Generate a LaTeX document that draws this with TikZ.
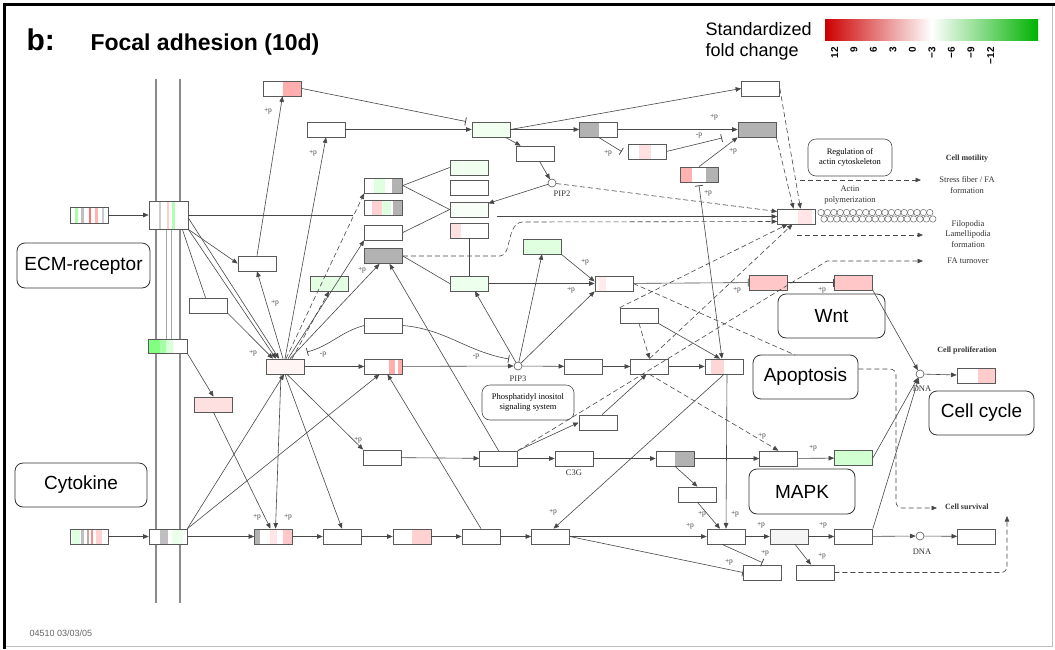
\documentclass[tikz,border=0pt]{standalone}
\usepackage{fontspec}
\setmainfont{Liberation Serif}
\setsansfont{Liberation Sans}
\usetikzlibrary{arrows.meta,calc}
\begin{document}
\begin{tikzpicture}[x=1pt,y=-1pt,
  gene/.style={draw=black!65, line width=0.7pt, minimum width=38pt, minimum height=15pt, inner sep=0pt, fill=white},
  st/.style={path picture={\foreach \c/\a/\b in {#1}{\fill[\c] ($(path picture bounding box.south west)!\a!(path picture bounding box.south east)$) rectangle ($(path picture bounding box.north west)!\b!(path picture bounding box.north east)$);}}},
  circ/.style={circle, draw=black!65, line width=0.6pt, minimum size=8pt, inner sep=0pt, fill=white},
  ln/.style={draw=black!72, line width=0.6pt},
  arr/.style={ln, -{Triangle[length=5.5pt,width=4.5pt]}},
  inh/.style={ln, -{Bar[width=8pt,line width=0.8pt]}},
  dsh/.style={dash pattern=on 5pt off 3pt},
  pl/.style={font=\fontsize{7.5}{8}\selectfont, text=black!75, inner sep=0pt},
  kt/.style={font=\fontsize{8.5}{10.5}\selectfont, text=black!80, inner sep=0pt, align=center},
  ktb/.style={kt, font=\fontsize{8}{10}\selectfont\bfseries},
  lab/.style={draw=black!80, line width=0.8pt, rounded corners=8pt, font=\sffamily\fontsize{19}{22}\selectfont, inner sep=0pt},
  klab/.style={draw=black!70, line width=0.6pt, rounded corners=8pt, font=\fontsize{8.5}{10.5}\selectfont, inner sep=0pt, align=center}
]
\useasboundingbox (0,0) rectangle (1055,649);
\fill[white] (0,0) rectangle (1055,649);
% frame
\draw[line width=3pt] (4.5,649) -- (4.5,4.5) -- (1055,4.5);
\draw[black!25, line width=0.8pt] (1052,6) -- (1052,646.5) -- (6,646.5);

% title
\node[anchor=base west, font=\sffamily\bfseries\fontsize{30}{32}\selectfont] (tb) at (23,50) {b:};
\node[anchor=base west, font=\sffamily\bfseries\fontsize{23}{26}\selectfont] (tt) at (87,50) {Focal adhesion (10d)};

% legend
\node[anchor=base west, font=\sffamily\fontsize{18}{20}\selectfont] (leg1) at (702,35) {Standardized};
\node[anchor=base west, font=\sffamily\fontsize{18}{20}\selectfont] (leg2) at (702,56) {fold change};
\shade[left color=red!80!black, right color=green!70!black, middle color=white] (825,19.5) rectangle (1038,40);
\foreach \v [count=\i from 0] in {12,9,6,3,0,−3,−6,−9,−12}{
  \node[rotate=90, anchor=east, font=\sffamily\bfseries\fontsize{10}{11}\selectfont, inner sep=0pt] at ({834.5+\i*19.5},47) {\v};
}

% membrane
\draw[black!45, line width=2.4pt] (156,79) -- (156,603);
\draw[black!45, line width=2.4pt] (180,79) -- (180,603);
\draw[black!35, line width=0.8pt] (166,229) -- (166,339);
\draw[black!35, line width=0.8pt] (171,229) -- (171,339);

% label boxes
\node[lab, minimum width=133pt, minimum height=45pt] (ECMr) at (83.5,265.5) {ECM-receptor};
\node[lab, minimum width=132pt, minimum height=44pt] (Cyto) at (81,485) {Cytokine};
\node[lab, minimum width=107pt, minimum height=44pt] (Wnt) at (831.5,316) {Wnt};
\node[lab, minimum width=105pt, minimum height=44pt] (Apop) at (805.5,377) {Apoptosis};
\node[lab, minimum width=105pt, minimum height=44pt] (Ccyc) at (981.5,413) {Cell cycle};
\node[lab, minimum width=106pt, minimum height=45pt] (MAPK) at (802,491.5) {MAPK};
\node[klab, minimum width=84pt, minimum height=37pt] (Reg) at (850,157.5) {Regulation of\\actin cytoskeleton};
\node[klab, minimum width=92pt, minimum height=35pt] (Phos) at (528,402.5) {Phosphatidyl inositol\\signaling system};

% genes
\node[gene, minimum height=16pt, st={green!35/0.12/0.2, black!25/0.3/0.36, red!55/0.5/0.56, red!30/0.66/0.74, black!20/0.85/0.9}] (lig1) at (89,215) {};
\node[gene, minimum width=39pt, minimum height=28pt, st={black!20/0.25/0.32, red!20/0.45/0.5, green!30/0.6/0.66}] (mECM) at (168.5,215) {};
\node[gene, minimum width=39pt, minimum height=14pt, st={green!50/0/0.3, green!35/0.3/0.45, green!15/0.45/0.65}] (mInt) at (167.5,346) {};
\node[gene, st={green!12/0.05/0.25, black!25/0.3/0.38, red!40!black!35/0.45/0.5, red!45/0.55/0.6, red!18/0.68/0.85}] (lig2) at (89,536.5) {};
\node[gene, st={black!25/0.3/0.5, green!8/0.6/0.9}] (mCyt) at (168,536.5) {};

\node[gene, st={red!32/0.5/1}] (A1) at (282.5,88.5) {};
\node[gene] (A2) at (326,129.5) {};
\node[gene, fill=green!6] (B1) at (491,129.5) {};
\node[gene] (B2) at (535,153.5) {};
\node[gene, st={black!30/0/0.5}] (B3) at (598.5,129.5) {};
\node[gene, st={red!12/0.3/0.6}] (B4) at (647,151.5) {};
\node[gene, st={red!30/0/0.32, black!30/0.68/1}] (B5) at (699,174.5) {};
\node[gene] (C1) at (760.5,88.5) {};
\node[gene, fill=black!30] (C2) at (757,129.5) {};
\node[gene, st={red!10/0.55/0.9}] (C3) at (796.5,216.5) {};
\node[gene, st={green!12/0.25/0.55, black!30/0.72/1}] (L1) at (383.5,185.5) {};
\node[gene, st={red!18/0.2/0.45, green!12/0.45/0.7, black!30/0.75/1}] (L2) at (383.5,207.5) {};
\node[gene] (L3) at (383.5,232.5) {};
\node[gene, fill=black!30] (L4) at (383.5,256) {};
\node[gene, fill=green!6] (H1) at (469,167.5) {};
\node[gene] (H2) at (469,187.5) {};
\node[gene, fill=green!3] (H3) at (469,209.5) {};
\node[gene, st={red!12/0/0.3}] (H4) at (469,230.5) {};
\node[gene, fill=green!12] (G1) at (542,246.5) {};
\node[gene, fill=green!7] (H5) at (469,283.5) {};
\node[gene, st={red!8/0.1/0.3}] (R1) at (614,283.5) {};
\node[gene] (Q1) at (639,315.5) {};
\node[gene] (S1) at (257,263.5) {};
\node[gene, fill=green!10] (S2) at (329,283.5) {};
\node[gene] (S3) at (208.5,305.5) {};
\node[gene, fill=red!4] (FAK) at (285,366.5) {};
\node[gene, fill=red!12] (P1) at (213.5,404.5) {};
\node[gene] (T1) at (383.5,325.5) {};
\node[gene, st={red!32/0.65/0.8, red!32/0.88/1}] (T2) at (383.5,366.5) {};
\node[circ] (PIP3) at (518,366) {};
\node[circ] (PIP2) at (552,183) {};
\node[gene] (U1) at (583.5,366.5) {};
\node[gene] (U2) at (649.5,366.5) {};
\node[gene, st={red!16/0.15/0.5}] (U3) at (724,366.5) {};
\node[gene, fill=red!22] (W1) at (768,282.5) {};
\node[gene, fill=red!22] (W2) at (853.5,282.5) {};
\node[circ] (DNA1) at (920,374) {};
\node[gene, st={red!20/0.55/1}] (CC) at (976,375.5) {};
\node[gene] (M0) at (382.5,457.5) {};
\node[gene] (M1) at (498.5,458.5) {};
\node[gene] (C3G) at (574,458.5) {};
\node[gene, st={black!30/0.5/1}] (M2) at (675,458.5) {};
\node[gene] (M3) at (778.5,458.5) {};
\node[gene, fill=green!18] (M4) at (853.5,458) {};
\node[gene] (M5) at (697.5,494.5) {};
\node[gene] (V1) at (598,422.5) {};
\node[gene, st={black!30/0/0.15, red!10/0.4/0.6, red!22/0.75/1}] (K1) at (273.5,536.5) {};
\node[gene] (K2) at (342,536.5) {};
\node[gene, st={red!18/0.5/1}] (K3) at (412,536.5) {};
\node[gene] (K4) at (481,536.5) {};
\node[gene] (K5) at (550.5,536.5) {};
\node[gene] (K6) at (726,536.5) {};
\node[gene, fill=black!4] (K7) at (789,536.5) {};
\node[gene] (K8) at (853.5,536.5) {};
\node[circ] (DNA2) at (920,536) {};
\node[gene] (K9) at (976.5,536.5) {};
\node[gene] (K10) at (762.5,572.5) {};
\node[gene] (K11) at (815,572.5) {};

% small texts
\node[kt] (tPIP2) at (562,194) {PIP2};
\node[kt] (tPIP3) at (518,379) {PIP3};
\node[kt] (tDNA1) at (922,389) {DNA};
\node[kt] (tDNA2) at (922,552) {DNA};
\node[kt] (tC3G) at (574,473) {C3G};
\node[kt] (tActin) at (850,195) {Actin\\polymerization};
\node[ktb] (tMot) at (967,159) {Cell motility};
\node[kt] (tStress) at (967,185) {Stress fiber / FA\\formation};
\node[kt] (tFilo) at (968,234) {Filopodia\\Lamellipodia\\formation};
\node[kt] (tFA) at (968,261) {FA turnover};
\node[ktb] (tProl) at (967,351) {Cell proliferation};
\node[ktb, anchor=west] (tSurv) at (945,507) {Cell survival};
\node[anchor=base west, font=\sffamily\fontsize{9}{10}\selectfont, text=black!60] (tId) at (26,636) {04510 03/03/05};

% actin beads
\foreach \i in {0,...,17}{
  \draw[black!60, line width=0.5pt] ({821+\i*6.4},212.5) circle (3.2pt);
  \draw[black!60, line width=0.5pt] ({824+\i*6.4},219) circle (3.2pt);
}

% coordinates for free ends
\coordinate (e1) at (353,215);
\coordinate (e2) at (497,216.5);
\coordinate (a1t) at (466,121.5);
\coordinate (b4t) at (722,138);
\coordinate (fakT) at (307,352);
\coordinate (pipT) at (509,359);
\coordinate (fa1) at (827,261);
\coordinate (faE) at (923,261);
\coordinate (rs) at (800,180);
\coordinate (rsE) at (921,180);
\coordinate (fl) at (797,235);
\coordinate (flE) at (923,235);
\coordinate (apo1) at (795,355);
\coordinate (surv1) at (1007,516);
\coordinate (survE) at (937,508);

% connectors: top
\draw[arr] (lig1) -- (mECM);
\draw[arr] (lig2) -- (mCyt);
\draw[ln] (mECM.east) -- (e1);
\draw[arr] (e2) -- (C3.west);
\draw[arr] (mECM.south east) -- (S1.west);
\draw[arr] (mECM.south east) -- ([xshift=-9pt]FAK.north);
\draw[arr] ([yshift=-3pt]mECM.east) -- ([xshift=-6pt]FAK.north);
\draw[ln] ([xshift=-6pt]mECM.south east) -- ([xshift=-3pt]S3.north);
\draw[arr] (S3.south east) -- ([xshift=-12pt]FAK.north);
\draw[arr] ([xshift=-2pt]FAK.north) -- (S1.south);
\draw[arr] (S1.north) -- (A1.south);
\draw[arr] (FAK.north) -- (A2.south);
\draw[arr] (A2) -- (B1);
\draw[inh] (A1.east) -- (a1t);
\draw[arr] (B1) -- (B2);
\draw[arr] (B2) -- (PIP2);
\draw[arr] (PIP2) -- (H3);
\draw[arr] (B1) -- (B3);
\draw[arr] (B1.east) -- (C1.west);
\draw[arr] (B3) -- (C2);
\draw[inh] (B3.south) -- ([xshift=-6pt]B4.west);
\draw[inh] (B4.east) -- (b4t);
\draw[arr] (B5.north) -- (C2.south west);
\draw[ln] (L1.east) -- (H1.west);
\draw[ln] (L1.east) -- (H3.west);
\draw[ln] (L3.east) -- (H3.west);
\draw[ln] (L4.east) -- (H5.west);
\draw[ln] (H4) -- (H5);
\draw[arr, dsh] ([xshift=1pt]FAK.north) -- (L1.south west);
\draw[arr] ([xshift=3pt]FAK.north) -- (L3.south west);
\draw[arr] ([xshift=5pt]FAK.north) -- ([xshift=-4pt]L4.south);
\draw[arr] (M1.north) -- ([xshift=6pt]L4.south);
\draw[arr, dsh] ([xshift=7pt]FAK.north) -- (S2.south);
\draw[arr] (FAK) -- (T2);
\draw[arr] (T2) -- (PIP3);
\draw[inh] (T1.west) to[out=195, in=15] (fakT);
\draw[inh] (T1.east) to[out=-5, in=170] (pipT);
\draw[arr] (PIP3) -- ([xshift=6pt]H5.south);
\draw[arr] (PIP3) -- (G1.south);
\draw[arr] (PIP3) -- (R1.south west);
\draw[arr] (G1.south east) -- ([yshift=2pt]R1.west);
\draw[arr] (H5) -- (R1);
\draw[arr] (PIP3) -- (U1);
\draw[arr] (U1) -- (U2);
\draw[arr] (U2) -- (U3);
\draw[arr, dsh] (Q1.south) -- (U2.north);
\draw[arr] (Q1.south east) -- ([xshift=-4pt]U3.north);
\draw[inh] (R1) -- (W1);
\draw[inh] (W1) -- (W2);
\draw[arr] (W2.south east) -- (DNA1);
\draw[arr] (DNA1) -- (CC);
\draw[ln, {Bar[width=8pt,line width=0.8pt]}-{Triangle[length=5.5pt,width=4.5pt]}] ([yshift=-3pt]B5.south) -- ([xshift=-2pt]U3.north);
\draw[arr] ([xshift=3pt]U3.south) -- (K6.north);

% connectors: lower
\draw[arr] (mInt.south east) -- (P1.north);
\draw[arr] (P1.south) -- ([xshift=-3pt]K1.north);
\draw[arr] ([xshift=-4pt]FAK.south) -- ([xshift=2pt]K1.north);
\draw[arr] (FAK.south) -- (K2.north);
\draw[arr] ([xshift=2pt]FAK.south) -- (M0.north west);
\draw[arr] (mCyt) -- (K1);
\draw[arr] (mCyt.north east) -- ([xshift=-1pt]FAK.south);
\draw[arr] (mCyt.north east) -- ([xshift=-4pt]T2.south);
\draw[arr] (K4.north) -- ([xshift=4pt]T2.south);
\draw[arr] (K1) -- (K2);
\draw[arr] (K2) -- (K3);
\draw[arr] (K3) -- (K4);
\draw[arr] (K4) -- (K5);
\draw[arr] (K5) -- (K6);
\draw[arr] (M0) -- (M1);
\draw[arr] (M1) -- (C3G);
\draw[arr] (C3G) -- (M2);
\draw[arr] (M2) -- (M3);
\draw[arr] (M3) -- (M4);
\draw[arr] (M1.north east) -- (V1.west);
\draw[arr] ([xshift=4pt]V1.north) -- ([xshift=-3pt]U2.south);
\draw[arr] (M2.south) -- (M5.north);
\draw[arr] (M5.south) -- ([xshift=-6pt]K6.north);
\draw[arr] (U3.south) -- ([xshift=3pt]K5.north);
\draw[inh] (K5.east) -- (K10.west);
\draw[inh] ([xshift=-4pt]K6.south) -- ([yshift=2pt]K10.north);
\draw[arr] (K6) -- (K7);
\draw[arr] (K7) -- (K8);
\draw[arr] (K8) -- (DNA2);
\draw[arr] (DNA2) -- (K9);
\draw[arr] ([xshift=6pt]K7.south) -- ([xshift=-4pt]K11.north);
\draw[arr] (M4.east) -- (DNA1);
\draw[arr] (K8.north east) -- (DNA1);
\draw[arr, dsh] (U2.south) -- (M3.north);

% dashed
\draw[arr, dsh] (L4.east) -- (500,256) .. controls (512,256) and (506,224) .. (522,222) -- ([yshift=-5pt]C3.west);
\draw[arr, dsh] (PIP2) -- ([yshift=5pt]C3.west);
\draw[arr, dsh] (C1.east) -- ([xshift=4pt]C3.north);
\draw[arr, dsh] (C2.south east) -- ([xshift=-3pt]C3.north);
\draw[arr, dsh] (Q1.north west) -- ([xshift=-9pt]C3.south);
\draw[arr, dsh] (U2.north) -- ([xshift=-4pt]C3.south);
\draw[arr, dsh] (M1.north east) -- (fa1) -- (faE);
\draw[ln, dsh] (R1.east) -- (apo1);
\draw[arr, dsh, rounded corners=6pt] ([yshift=8pt]Apop.east) -- (896,369) -- (896,508) -- (survE);
\draw[arr, dsh, rounded corners=6pt] (K11.east) -- (1007,572.5) -- (surv1);
\draw[arr, dsh] (rs) -- (rsE);
\draw[arr, dsh] (fl) -- (flE);

% +p labels
\foreach \x/\y/\t in {268/111/+p, 313/153/+p, 275/303/+p, 253/353/+p, 323/355/-p, 362/270/+p, 476/357/-p, 585/262/+p, 571/290/+p, 714/117/+p, 699/136/-p, 608/153/+p, 733/151/+p, 708/193/+p, 737/290/+p, 822/290/+p, 358/440/+p, 257/517/+p, 288/517/+p, 553/512/+p, 690/526/+p, 702/514/+p, 735/514/+p, 761/525/+p, 823/525/+p, 729/562/+p, 765/553/+p, 822/556/+p, 762/436/+p, 813/448/+p}{
  \node[pl] at (\x,\y) {\t};
}
\end{tikzpicture}
\end{document}
